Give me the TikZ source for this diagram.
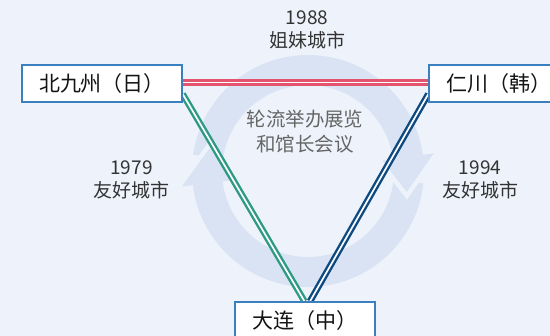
\documentclass[tikz,border=0pt]{standalone}
\usepackage{fontspec}
\setmainfont{Noto Sans CJK SC}
\usetikzlibrary{calc,backgrounds}
\definecolor{bg}{HTML}{EEF3FB}
\definecolor{ring}{HTML}{D9E3F3}
\definecolor{boxline}{HTML}{3A7FC0}
\definecolor{redl}{HTML}{E5546E}
\definecolor{greenl}{HTML}{2E9A84}
\definecolor{bluel}{HTML}{0E4A82}
\definecolor{txt}{HTML}{333333}
\definecolor{ctxt}{HTML}{666666}
\begin{document}
\begin{tikzpicture}[x=1pt,y=-1pt,
  city/.style={draw=boxline, line width=1.3pt, fill=white, minimum height=37pt,
    inner xsep=0pt, inner ysep=0pt, font=\fontsize{21}{25}\selectfont, text=black!92},
  lbl/.style={font=\fontsize{19}{23}\selectfont, text=txt, align=center, inner sep=0pt},
  ctr/.style={font=\fontsize{19.5}{25}\selectfont, text=ctxt, align=center, inner sep=0pt},
  link/.style={line width=2.4pt, double=white, double distance=1.7pt},
  arcband/.style={draw=ring, line width=30pt},
  gapline/.style={draw=bg, line width=9pt, line join=miter},
]
\useasboundingbox (0,0) rectangle (550,336);
\clip (0,0) rectangle (550,336);

% city nodes
\node[city, minimum width=160pt] (kk) at (102,83.5) {北九州（日）};
\node[city, minimum width=140pt] (ic) at (499,83.5) {仁川（韩）};
\node[city, minimum width=140pt] (dl) at (305,320.5) {大连（中）};

% labels
\node[lbl] (l88) at (307,30) {1988\\姐妹城市};
\node[lbl] (l79) at (131.5,180) {1979\\友好城市};
\node[lbl] (l94) at (480,180) {1994\\友好城市};
\node[ctr] (mid) at (305,131.5) {轮流举办展览\\和馆长会议};

\begin{pgfonlayer}{background}
  \fill[bg] (0,0) rectangle (550,336);
  % cycle ring: upper arc (clockwise, head at right)
  \draw[arcband] plot[domain=-172:-8, samples=80] ({308+101*cos(\x)},{171+101*sin(\x)});
  % lower arc (clockwise, head at left)
  \draw[arcband] plot[domain=6:173, samples=80] ({308+101*cos(\x)},{171+101*sin(\x)});
  % right arrowhead
  \draw[gapline] ({308+127*cos(-8)},{171+127*sin(-8)}) -- ({308+101*cos(12)},{171+101*sin(12)}) -- ({308+75*cos(-8)},{171+75*sin(-8)});
  \fill[ring] ({308+127*cos(-8)},{171+127*sin(-8)}) -- ({308+101*cos(12)},{171+101*sin(12)}) -- ({308+75*cos(-8)},{171+75*sin(-8)}) -- cycle;
  % left arrowhead
  \draw[gapline] ({308+127*cos(173)},{171+127*sin(173)}) -- ({308+101*cos(193)},{171+101*sin(193)}) -- ({308+75*cos(173)},{171+75*sin(173)});
  \fill[ring] ({308+127*cos(173)},{171+127*sin(173)}) -- ({308+101*cos(193)},{171+101*sin(193)}) -- ({308+75*cos(173)},{171+75*sin(173)}) -- cycle;
  % connectors
  \draw[link, draw=redl] ($(kk.east)+(0,-1)$) -- ($(ic.west)+(0,-1)$);
  \draw[link, draw=greenl] ($(kk.east)+(0,10.5)$) -- ($(dl.north)+(-0.5,0)$);
  \draw[link, draw=bluel] ($(ic.west)+(0,10.5)$) -- ($(dl.north)+(5,0)$);
\end{pgfonlayer}
\end{tikzpicture}
\end{document}
